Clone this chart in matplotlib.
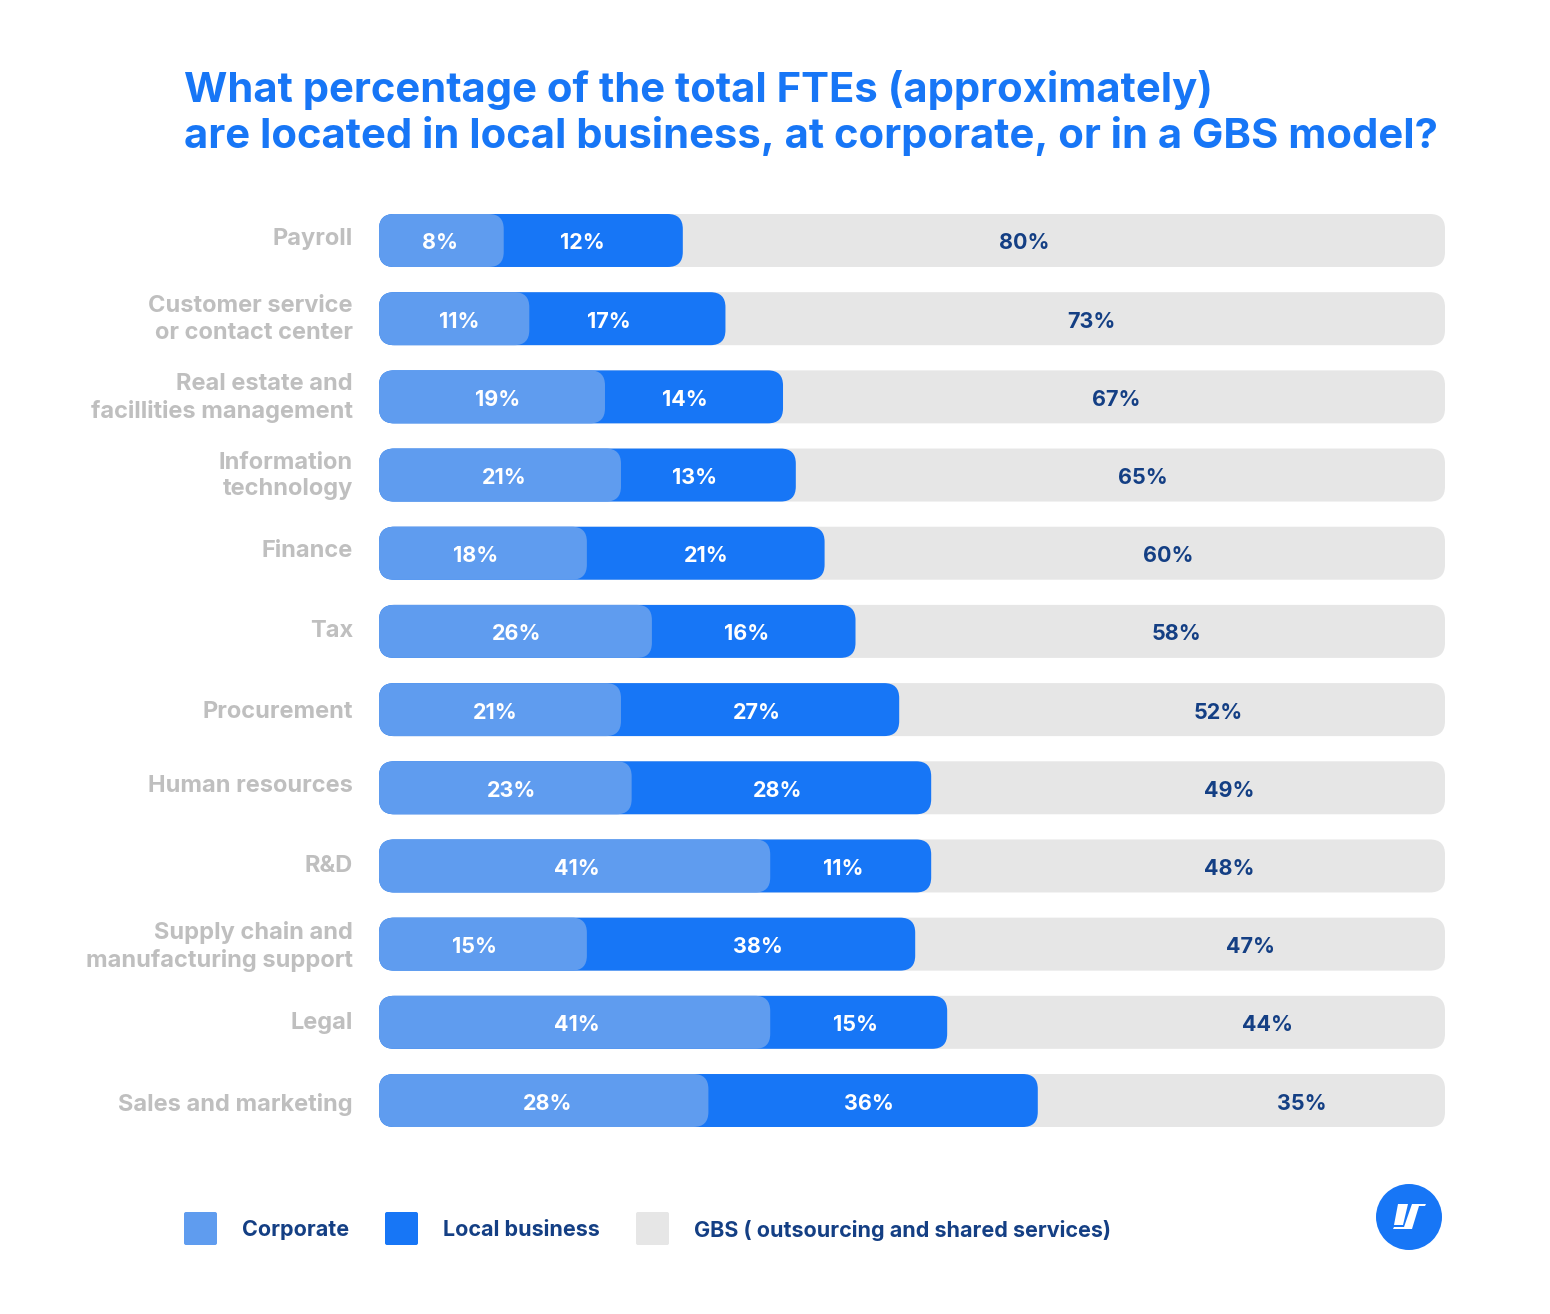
import matplotlib
matplotlib.use('Agg')
import matplotlib.pyplot as plt
from matplotlib.patches import FancyBboxPatch, Circle, Polygon

categories = ['Payroll', 'Customer service\nor contact center', 'Real estate and\nfacillities management',
              'Information\ntechnology', 'Finance', 'Tax', 'Procurement', 'Human resources', 'R&D',
              'Supply chain and\nmanufacturing support', 'Legal', 'Sales and marketing']

# printed values
corporate = [8, 11, 19, 21, 18, 26, 21, 23, 41, 15, 41, 28]
local_business = [12, 17, 14, 13, 21, 16, 27, 28, 11, 38, 15, 36]
gbs = [80, 73, 67, 65, 60, 58, 52, 49, 48, 47, 44, 35]

# drawn lengths, they do not follow the printed values
corporate_drawn = [11.7, 14.1, 21.2, 22.7, 19.5, 25.6, 22.7, 23.7, 36.7, 19.5, 36.7, 30.9]
local_drawn = [16.8, 18.4, 16.7, 16.4, 22.3, 19.1, 26.1, 28.1, 15.1, 30.8, 16.6, 30.9]

legend_names = ['Corporate', 'Local business', 'GBS ( outsourcing and shared services)']
title = 'What percentage of the total FTEs (approximately)\nare located in local business, at corporate, or in a GBS model?'

# colours
C_CORP = '#5f9cef'
C_LOCAL = '#1776f6'
C_GBS = '#e6e6e6'
C_DARK = '#143f84'
C_CAT = '#bfbfbf'

# label nudges from the segment centre, pixels
corp_nudge = [-1, 5, 6, 4, -7, 1, -5, 6, 2, -8, 2, 4]
local_nudge = [-11, -19, -9, -14, 1, -7, -3, -4, -7, 7, -3, -4]
gbs_nudge = [-40, 6, 2, 22, 33, 26, 46, 41, 41, 70, 71, 60]
cat_nudge = [-1, 1, 1, 1, -2, 0, 2, -2, 0, 2, 1, 4]
val_drop = 3

W, H = 1550, 1314
plt.rcParams['font.family'] = ['Inter', 'DejaVu Sans']
fig = plt.figure(figsize=(W / 100, H / 100), dpi=100)

# bars live in their own axes, 0-100 across
ax = fig.add_axes([379 / W, 1 - 1127 / H, (1445 - 379) / W, (1127 - 214) / H])
bar_h = 53 / 78.2
ax.set_xlim(0, 100)
ax.set_ylim(len(categories) - 1 + bar_h / 2, -bar_h / 2)
ax.axis('off')

px_x = 10.66
px_y = 78.2
radius = 15 / px_x
aspect = px_x / px_y


def rbar(x, y, w, color, z):
    ax.add_patch(FancyBboxPatch((x, y - bar_h / 2), w, bar_h,
                                boxstyle='round,pad=0,rounding_size=%f' % radius,
                                mutation_aspect=aspect, fc=color, ec='none', zorder=z))


for i, cat in enumerate(categories):
    c = corporate_drawn[i]
    l = local_drawn[i]
    rbar(0, i, 100, C_GBS, 1)
    rbar(0, i, c + l, C_LOCAL, 2)
    rbar(0, i, c, C_CORP, 3)

    ax.annotate('%d%%' % corporate[i], (c / 2, i), xytext=(corp_nudge[i] * 0.72, -val_drop * 0.72),
                textcoords='offset points', ha='center', va='center', color='white',
                fontsize=15.5, fontweight='bold', zorder=5)
    ax.annotate('%d%%' % local_business[i], (c + l / 2, i), xytext=(local_nudge[i] * 0.72, -val_drop * 0.72),
                textcoords='offset points', ha='center', va='center', color='white',
                fontsize=15.5, fontweight='bold', zorder=5)
    ax.annotate('%d%%' % gbs[i], ((c + l + 100) / 2, i), xytext=(gbs_nudge[i] * 0.72, -val_drop * 0.72),
                textcoords='offset points', ha='center', va='center', color=C_DARK,
                fontsize=15.5, fontweight='bold', zorder=5)
    ax.annotate(cat, (0, i), xytext=(-26 * 0.72, cat_nudge[i] * -0.72), annotation_clip=False,
                textcoords='offset points', ha='right', va='center', color=C_CAT,
                fontsize=17, fontweight='bold', linespacing=1.27)

# title, legend and logo in figure pixels
ov = fig.add_axes([0, 0, 1, 1])
ov.set_xlim(0, W)
ov.set_ylim(H, 0)
ov.axis('off')
ov.patch.set_alpha(0)

ov.text(184, 113, title, color=C_LOCAL, fontsize=30.1, fontweight='bold',
        ha='left', va='center', linespacing=1.21)

for x, name, tx, col in zip([184, 385, 636], legend_names, [242, 443, 694], [C_CORP, C_LOCAL, C_GBS]):
    ov.add_patch(FancyBboxPatch((x, 1212), 33, 33, boxstyle='round,pad=0,rounding_size=2', fc=col, ec='none'))
    ov.text(tx, 1230.5, name, color=C_DARK, fontsize=15.5, fontweight='bold', ha='left', va='center')

ov.add_patch(Circle((1409, 1217), 33, fc=C_LOCAL, ec='none'))
ov.add_patch(Polygon([(1398, 1204), (1408, 1204), (1403, 1225), (1394, 1225)], fc='white', ec='none'))
ov.add_patch(Polygon([(1412, 1204), (1426, 1204), (1425, 1206), (1419, 1206), (1412, 1229),
                      (1393, 1229), (1394, 1227), (1404, 1227)], fc='white', ec='none'))

fig.savefig('out.png', dpi=100)
